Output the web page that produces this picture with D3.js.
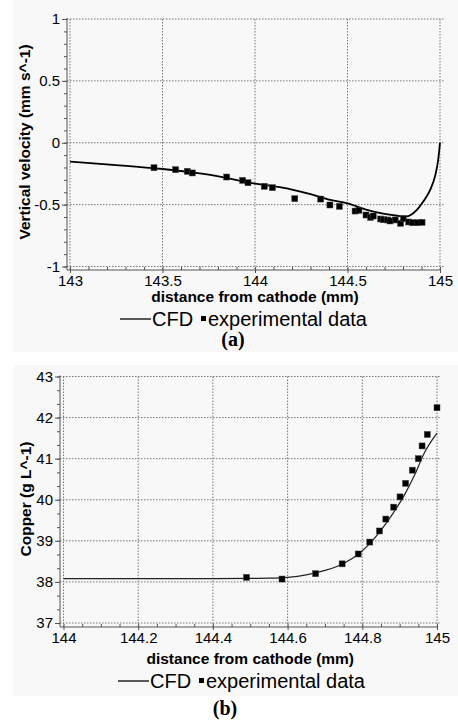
<!DOCTYPE html>
<html><head><meta charset="utf-8">
<script src="https://cdn.jsdelivr.net/npm/d3@7"></script>
<style>body{margin:0;background:#fff}svg{display:block}</style>
</head><body>
<script>
// ---- data: panel (a) vertical velocity
const velCfdX = [143, 143.25, 143.5, 143.75, 144, 144.1, 144.2, 144.3, 144.4, 144.5, 144.6, 144.7, 144.77, 144.82, 144.85, 144.875, 144.9, 144.925, 144.95, 144.975, 144.99, 145];
const velCfdY = [-0.153, -0.18, -0.212, -0.258, -0.33, -0.352, -0.378, -0.415, -0.46, -0.49, -0.54, -0.575, -0.59, -0.595, -0.575, -0.543, -0.495, -0.44, -0.37, -0.26, -0.14, 0.0];
const velExpX = [143.454, 143.571, 143.634, 143.661, 143.847, 143.933, 143.962, 144.050, 144.094, 144.215, 144.355, 144.405, 144.456, 144.541, 144.562, 144.600, 144.625, 144.639, 144.679, 144.694, 144.717, 144.730, 144.758, 144.787, 144.802, 144.831, 144.852, 144.877, 144.903];
const velExpY = [-0.202, -0.218, -0.231, -0.244, -0.277, -0.304, -0.323, -0.352, -0.363, -0.452, -0.455, -0.503, -0.514, -0.552, -0.546, -0.584, -0.603, -0.592, -0.616, -0.622, -0.624, -0.632, -0.624, -0.651, -0.614, -0.640, -0.646, -0.646, -0.643];
const velXTicks = [143, 143.5, 144, 144.5, 145];
const velYTicks = [-1, -0.5, 0, 0.5, 1];
// ---- data: panel (b) copper
const cuCfdX = [144, 144.2, 144.4, 144.5, 144.55, 144.6, 144.65, 144.7, 144.75, 144.79, 144.82, 144.85, 144.88, 144.91, 144.94, 144.965, 145];
const cuCfdY = [38.08, 38.08, 38.08, 38.085, 38.09, 38.11, 38.17, 38.28, 38.45, 38.68, 38.93, 39.26, 39.64, 40.07, 40.6, 41.12, 41.62];
const cuExpX = [144.490, 144.585, 144.675, 144.746, 144.789, 144.820, 144.846, 144.863, 144.884, 144.901, 144.916, 144.934, 144.950, 144.960, 144.974, 145.000];
const cuExpY = [38.11, 38.07, 38.20, 38.44, 38.68, 38.97, 39.24, 39.53, 39.82, 40.07, 40.40, 40.72, 41.00, 41.31, 41.59, 42.24];
const cuXTicks = [144, 144.2, 144.4, 144.6, 144.8, 145];
const cuYTicks = [37, 38, 39, 40, 41, 42, 43];
const legendLabels = ["CFD", "experimental data"];
const panelLabels = ["(a)", "(b)"];

const W = 458, H = 725;
const svg = d3.select("body").append("svg").attr("width", W).attr("height", H);
const SANS = "'Liberation Sans', Arial, sans-serif";
const SERIF = "'Liberation Serif', 'Times New Roman', serif";
const fmt = d => String(d);

function panel(cfg) {
  const g = svg.append("g");
  g.append("rect").attr("x", 13).attr("y", cfg.bgTop).attr("width", W - 13).attr("height", cfg.bgBottom - cfg.bgTop).attr("fill", "#f8f8f8");
  const x = d3.scaleLinear().domain(cfg.xDomain).range([cfg.left, cfg.right]);
  const y = d3.scaleLinear().domain(cfg.yDomain).range([cfg.bottom, cfg.top]);
  // grid
  g.append("g").selectAll("line").data(cfg.xTicks).join("line")
    .attr("x1", d => x(d)).attr("x2", d => x(d)).attr("y1", cfg.top).attr("y2", cfg.axisY)
    .attr("stroke", "#777").attr("stroke-width", 1).attr("stroke-dasharray", "1.5,1.5");
  g.append("g").selectAll("line").data(cfg.yTicks).join("line")
    .attr("y1", d => y(d)).attr("y2", d => y(d)).attr("x1", cfg.axisX).attr("x2", cfg.right + 4)
    .attr("stroke", "#777").attr("stroke-width", 1).attr("stroke-dasharray", "1.5,1.5");
  // x axis
  const xAxisG = g.append("g").attr("transform", `translate(0,${cfg.axisY})`);
  xAxisG.call(d3.axisBottom(x).tickValues(cfg.xMinor).tickSize(-3).tickFormat(""))
    .call(a => a.select(".domain").remove());
  xAxisG.append("g").call(d3.axisBottom(x).tickValues(cfg.xTicks).tickSize(3).tickPadding(2).tickFormat(fmt))
    .call(a => a.select(".domain").remove())
    .call(a => a.selectAll("text").attr("font-family", SANS).attr("font-size", 15).attr("fill", "#000"));
  xAxisG.selectAll("line").attr("stroke", "#555");
  xAxisG.append("line").attr("x1", cfg.axisX).attr("x2", cfg.right + 1).attr("y1", 0).attr("y2", 0).attr("stroke", "#555");
  // y axis
  const yAxisG = g.append("g").attr("transform", `translate(${cfg.axisX},0)`);
  yAxisG.call(d3.axisLeft(y).tickValues(cfg.yMinor).tickSize(3).tickFormat(""))
    .call(a => a.select(".domain").remove());
  yAxisG.append("g").call(d3.axisLeft(y).tickValues(cfg.yTicks).tickSize(5).tickPadding(2).tickFormat(fmt))
    .call(a => a.select(".domain").remove())
    .call(a => a.selectAll("text").attr("font-family", SANS).attr("font-size", 15).attr("fill", "#000"));
  yAxisG.selectAll("line").attr("stroke", "#555");
  yAxisG.append("line").attr("x1", 0).attr("x2", 0).attr("y1", cfg.top - 1).attr("y2", cfg.axisY).attr("stroke", "#555");
  // titles
  g.append("text").attr("x", (cfg.left + cfg.right) / 2).attr("y", cfg.xTitleY).attr("text-anchor", "middle")
    .attr("font-family", SANS).attr("font-weight", "bold").attr("font-size", 15.5).text("distance from cathode (mm)");
  g.append("text").attr("transform", `translate(${cfg.yTitleX},${cfg.yTitleCy}) rotate(-90)`).attr("text-anchor", "middle")
    .attr("font-family", SANS).attr("font-weight", "bold").attr("font-size", 15.5).text(cfg.yTitle);
  // CFD line
  const pts = cfg.cfdX.map((v, i) => [v, cfg.cfdY[i]]);
  g.append("path").datum(pts)
    .attr("d", d3.line().x(d => x(d[0])).y(d => y(d[1])).curve(d3.curveMonotoneX))
    .attr("fill", "none").attr("stroke", cfg.lineColor).attr("stroke-width", cfg.lineWidth);
  // experimental points
  const ep = cfg.expX.map((v, i) => [v, cfg.expY[i]]);
  const s = cfg.markSize;
  g.append("g").selectAll("rect").data(ep).join("rect")
    .attr("x", d => x(d[0]) - s / 2).attr("y", d => y(d[1]) - s / 2).attr("width", s).attr("height", s)
    .attr("fill", "#000").attr("stroke", "#444").attr("stroke-width", 0.5);
  // legend
  const lg = g.append("g").attr("transform", `translate(${cfg.legX},${cfg.legY})`);
  lg.append("line").attr("x1", 0).attr("x2", 31).attr("y1", -7).attr("y2", -7).attr("stroke", "#000").attr("stroke-width", 1.3);
  lg.append("text").attr("x", 32).attr("y", 0).attr("font-family", SANS).attr("font-size", 20).text(legendLabels[0]);
  lg.append("rect").attr("x", 81).attr("y", -10).attr("width", 5).attr("height", 5).attr("fill", "#000");
  lg.append("text").attr("x", 88).attr("y", 0).attr("font-family", SANS).attr("font-size", 20).text(legendLabels[1]);
  // panel label
  g.append("text").attr("x", cfg.pLabX).attr("y", cfg.pLabY).attr("text-anchor", "middle")
    .attr("font-family", SERIF).attr("font-weight", "bold").attr("font-size", 20).text(cfg.pLabel);
}

function minorTicks(a, b, step) { const n = Math.round((b - a) / step); return d3.range(n + 1).map(i => +(a + i * step).toFixed(4)); }

panel({
  bgTop: 0, bgBottom: 352,
  xDomain: [143, 145], yDomain: [-1, 1], left: 70, right: 440, top: 19, bottom: 266.5,
  axisX: 67, axisY: 270,
  xTicks: velXTicks, yTicks: velYTicks,
  xMinor: minorTicks(143, 145, 0.1), yMinor: minorTicks(-1, 1, 0.1),
  xTitleY: 302, yTitleX: 30, yTitleCy: 142, yTitle: "Vertical velocity (mm s^-1)",
  cfdX: velCfdX, cfdY: velCfdY, lineColor: "#000", lineWidth: 1.8,
  expX: velExpX, expY: velExpY, markSize: 6,
  legX: 120, legY: 326, pLabX: 233, pLabY: 346, pLabel: panelLabels[0]
});
panel({
  bgTop: 365, bgBottom: 696,
  xDomain: [144, 145], yDomain: [37, 43], left: 63.5, right: 437, top: 376.5, bottom: 623,
  axisX: 60, axisY: 627,
  xTicks: cuXTicks, yTicks: cuYTicks,
  xMinor: minorTicks(144, 145, 0.05), yMinor: minorTicks(37, 43, 1 / 3),
  xTitleY: 664, yTitleX: 31, yTitleCy: 499, yTitle: "Copper (g L^-1)",
  cfdX: cuCfdX, cfdY: cuCfdY, lineColor: "#222", lineWidth: 1.2,
  expX: cuExpX, expY: cuExpY, markSize: 6,
  legX: 118, legY: 688, pLabX: 225, pLabY: 715, pLabel: panelLabels[1]
});
</script>
</body></html>
